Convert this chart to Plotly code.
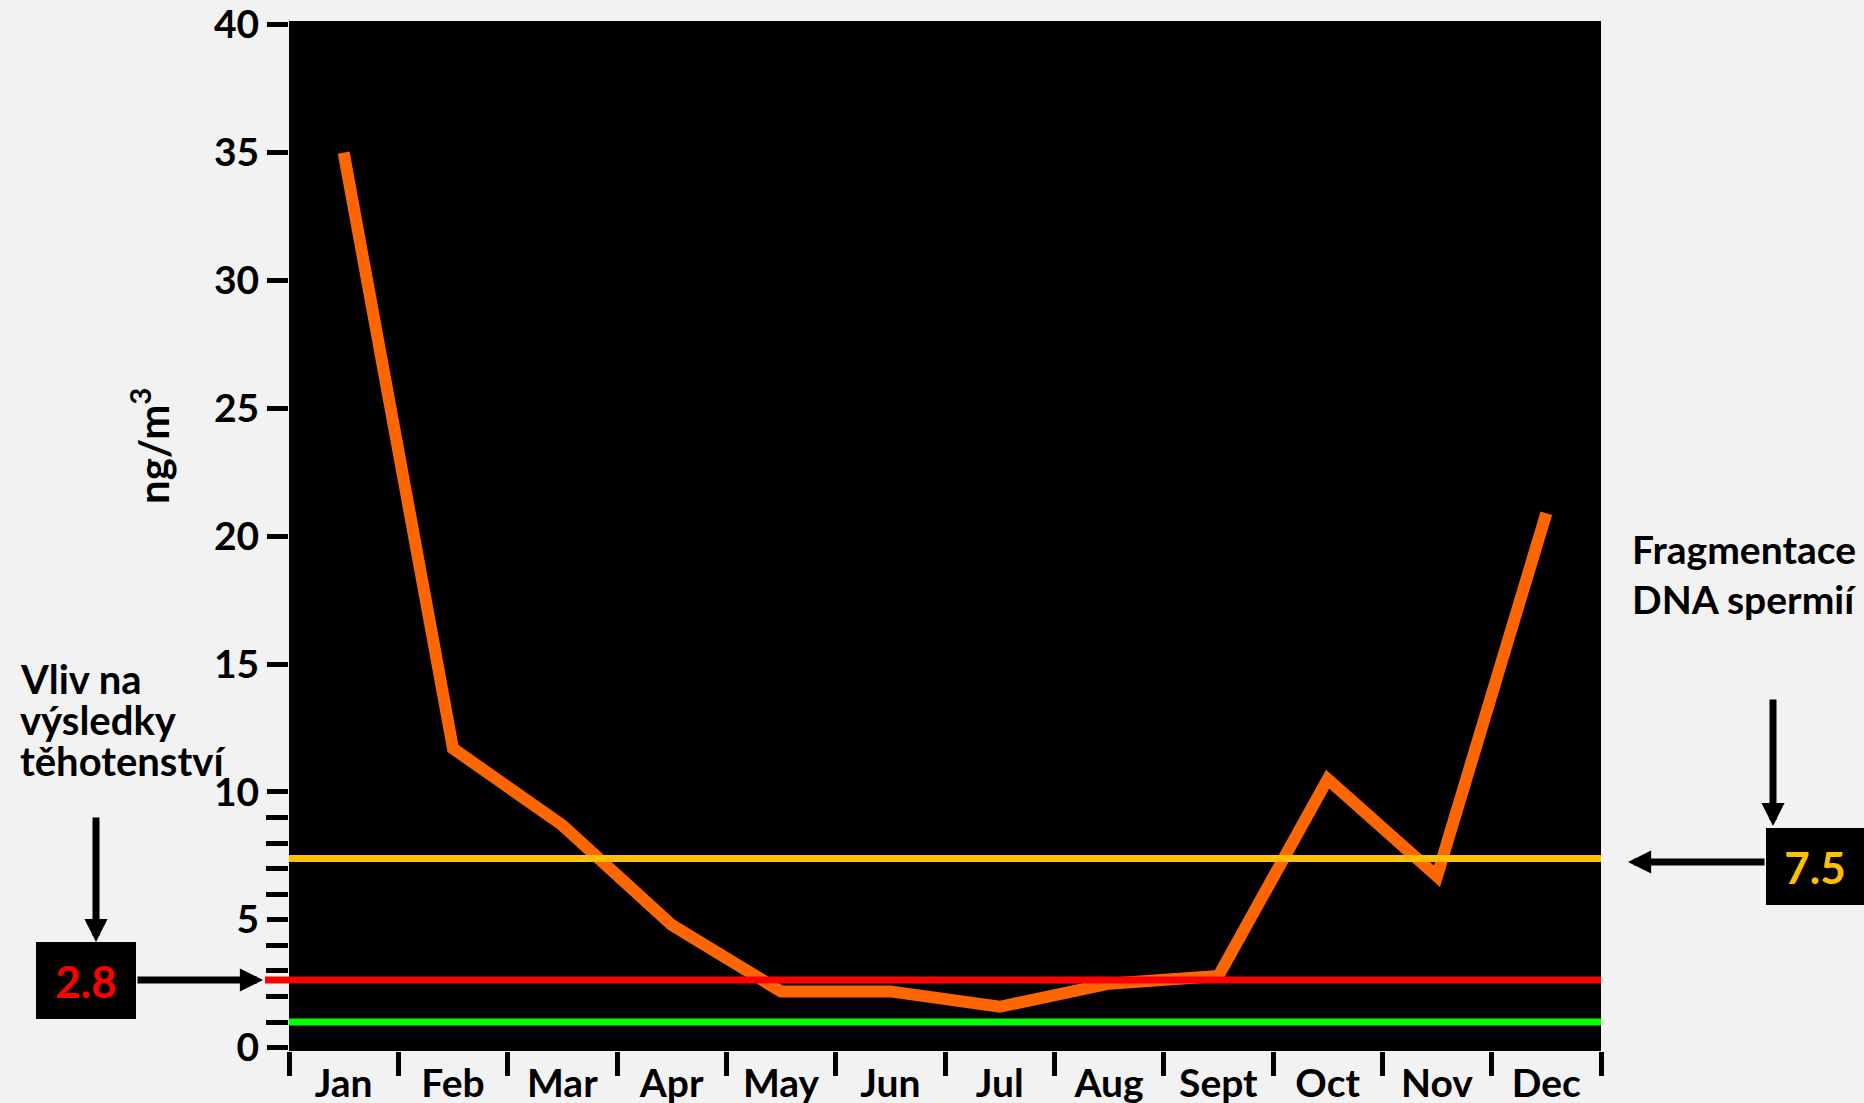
import plotly.graph_objects as go

# ---------------- data ----------------
months = ["Jan", "Feb", "Mar", "Apr", "May", "Jun", "Jul", "Aug", "Sept", "Oct", "Nov", "Dec"]
conc = [35.0, 11.7, 8.7, 4.8, 2.2, 2.2, 1.6, 2.5, 2.8, 10.5, 6.7, 20.9]

yellow_level = 7.4      # DNA fragmentation threshold line
red_level = 2.65        # pregnancy outcome threshold line
green_level = 1.0       # baseline line
yellow_label = "7.5"
red_label = "2.8"

y_major = [0, 5, 10, 15, 20, 25, 30, 35, 40]
y_minor = [1, 2, 3, 4, 6, 7, 8, 9]

left_text = ["Vliv na", "výsledky", "těhotenství"]
right_text = ["Fragmentace", "DNA spermií"]
y_title = "ng/m<sup>3</sup>"

# ---------------- styling ----------------
FONT = "Lato, Calibri, 'Open Sans', sans-serif"
BG = "#F2F2F2"
ORANGE = "#FF6600"
YELLOW = "#FFC000"
RED = "#FF0000"
GREEN = "#00FF00"
FS = 39

W, H = 1864, 1103
L, R, T, B = 289, 263, 21, 52
PW, PH = W - L - R, H - T - B


def px_x(px):
    return (px - L) / PW


def px_y(py):
    return (H - B - py) / PH


fig = go.Figure()

fig.add_trace(go.Scatter(
    x=months, y=conc, mode="lines",
    line=dict(color=ORANGE, width=12),
    hoverinfo="skip", showlegend=False,
))
# helper trace for the boundary tick axis
fig.add_trace(go.Scatter(
    x=list(range(len(months))), y=conc, xaxis="x2", mode="lines",
    line=dict(color="rgba(0,0,0,0)", width=0),
    hoverinfo="skip", showlegend=False,
))

boundaries = [i - 0.5 for i in range(len(months) + 1)]

fig.update_layout(
    width=W, height=H,
    margin=dict(l=L, r=R, t=T, b=B, autoexpand=False),
    paper_bgcolor=BG, plot_bgcolor="black",
    font=dict(family=FONT, color="black", size=FS, weight="bold"),
    xaxis=dict(
        type="category", categoryarray=months, range=[-0.5, len(months) - 0.5],
        showgrid=False, zeroline=False, showline=False,
        ticks="outside", ticklen=0, tickcolor="rgba(0,0,0,0)",
        ticklabelstandoff=-2,
        tickfont=dict(family=FONT, size=FS, color="black", weight="bold"),
    ),
    xaxis2=dict(
        overlaying="x", side="bottom", anchor="y",
        range=[-0.5, len(months) - 0.5],
        tickmode="array", tickvals=boundaries,
        showticklabels=False, showgrid=False, zeroline=False, showline=False,
        ticks="outside", ticklen=24, tickwidth=5, tickcolor="black",
    ),
    yaxis=dict(
        range=[-0.13, 40.15],
        tickmode="array", tickvals=y_major,
        showgrid=False, zeroline=False, showline=False,
        ticks="outside", ticklen=21, tickwidth=5, tickcolor="black",
        tickfont=dict(family=FONT, size=FS, color="black", weight="bold"),
        minor=dict(tickmode="array", tickvals=y_minor, ticks="outside",
                   ticklen=22, tickwidth=5, tickcolor="black", showgrid=False),
    ),
)

# threshold lines (above data)
fig.add_shape(type="line", xref="paper", yref="y", x0=0, x1=1,
              y0=yellow_level, y1=yellow_level,
              line=dict(color=YELLOW, width=7), layer="above")
fig.add_shape(type="line", xref="paper", yref="y", x0=px_x(265), x1=1,
              y0=red_level, y1=red_level,
              line=dict(color=RED, width=7), layer="above")
fig.add_shape(type="line", xref="paper", yref="y", x0=0, x1=1,
              y0=green_level, y1=green_level,
              line=dict(color=GREEN, width=7), layer="above")

ann = []
# y title
ann.append(dict(text=y_title, x=px_x(150), y=px_y(446), xref="paper", yref="paper",
                textangle=-90, showarrow=False, xanchor="center", yanchor="middle",
                font=dict(family=FONT, size=42, color="black", weight="bold")))
# left text
for txt, cy in zip(left_text, [679, 720, 761]):
    ann.append(dict(text=txt, x=px_x(18), y=px_y(cy), xref="paper", yref="paper",
                    showarrow=False, xanchor="left", yanchor="middle",
                    font=dict(family=FONT, size=FS + 1, color="black", weight="bold")))
# right text
for txt, cy in zip(right_text, [549, 599]):
    ann.append(dict(text=txt, x=px_x(1630), y=px_y(cy), xref="paper", yref="paper",
                    showarrow=False, xanchor="left", yanchor="middle",
                    font=dict(family=FONT, size=FS, color="black", weight="bold")))
# value boxes
ann.append(dict(text=red_label, x=px_x(86), y=px_y(980.5), xref="paper", yref="paper",
                showarrow=False, xanchor="center", yanchor="middle",
                width=100, height=77, bgcolor="black", borderpad=0, borderwidth=0,
                font=dict(family=FONT, size=44, color=RED, weight="bold")))
ann.append(dict(text=yellow_label, x=px_x(1815), y=px_y(866.5), xref="paper", yref="paper",
                showarrow=False, xanchor="center", yanchor="middle",
                width=98, height=77, bgcolor="black", borderpad=0, borderwidth=0,
                font=dict(family=FONT, size=44, color=YELLOW, weight="bold")))
# arrows
arrow_style = dict(text="", showarrow=True, arrowhead=2, arrowsize=0.66, arrowwidth=7,
                   arrowcolor="black", xref="paper", yref="paper", standoff=0, startstandoff=0)
ann.append(dict(x=px_x(96), y=px_y(942), ax=0, ay=816 - 942, **arrow_style))
ann.append(dict(x=px_x(263), y=px_y(980), ax=136 - 263, ay=0, **arrow_style))
ann.append(dict(x=px_x(1773), y=px_y(826), ax=0, ay=698 - 826, **arrow_style))
ann.append(dict(x=px_x(1628), y=px_y(862), ax=1766 - 1628, ay=0, **arrow_style))

fig.update_layout(annotations=ann)

fig.write_html("out.html")
